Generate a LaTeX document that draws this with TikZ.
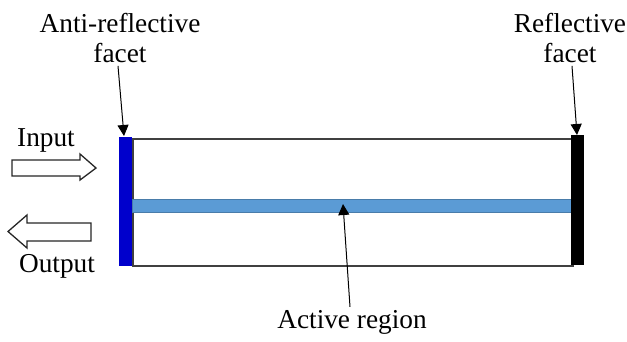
\documentclass[tikz,border=0pt]{standalone}
\usepackage{fontspec}
\setmainfont{Liberation Serif}
\usetikzlibrary{arrows.meta}
\definecolor{arblue}{RGB}{0,0,204}
\definecolor{actblue}{RGB}{91,155,213}
\definecolor{frame}{RGB}{64,64,64}
\begin{document}
\begin{tikzpicture}[x=1pt,y=-1pt,
  lbl/.style={font=\fontsize{27.3}{30}\selectfont, align=center, inner sep=0pt},
  ptr/.style={draw=black, line width=1pt, -{Triangle[length=11pt,width=11pt]}},
  blockarrow/.style={draw=black!85, line width=1.3pt, fill=white, line join=miter}]
\useasboundingbox (0,0) rectangle (627,341);
% body outline
\node[draw=frame, line width=1.6pt, minimum width=440pt, minimum height=127pt, inner sep=0pt, anchor=north west] (body) at (132,138) {};
% active region
\node[fill=actblue, draw=actblue!80!black, line width=0.4pt, minimum width=439pt, minimum height=13pt, inner sep=0pt, anchor=north west] (active) at (132,199) {};
% facets
\node[fill=arblue, minimum width=13pt, minimum height=129pt, inner sep=0pt, anchor=north west] (ar) at (119,137) {};
\node[fill=black, minimum width=13pt, minimum height=130pt, inner sep=0pt, anchor=north west] (rf) at (571,135) {};
% labels
\node[lbl] (arlbl) at (120,38) {Anti-reflective\\facet};
\node[lbl] (rflbl) at (570,38) {Reflective\\facet};
\node[lbl] (actlbl) at (352,322) {Active region};
\node[lbl] (inlbl) at (46,140) {Input};
\node[lbl] (outlbl) at (57,266) {Output};
% pointers
\coordinate (artip) at (124,136);
\coordinate (rftip) at (577,135);
\coordinate (acttip) at (343,204);
\draw[ptr] (arlbl.south -| 118,0) ++(0,3) -- (artip);
\draw[ptr] (rflbl.south -| 572,0) ++(0,3) -- (rftip);
\draw[ptr] (actlbl.north -| 350,0) ++(0,-3) -- (acttip);
% block arrows
\draw[blockarrow] (12,160) -- (80,160) -- (80,154) -- (96,168) -- (80,180) -- (80,176) -- (12,176) -- cycle;
\draw[blockarrow] (91,223) -- (27,223) -- (27,215) -- (8,231.5) -- (27,248) -- (27,241) -- (91,241) -- cycle;
\end{tikzpicture}
\end{document}
